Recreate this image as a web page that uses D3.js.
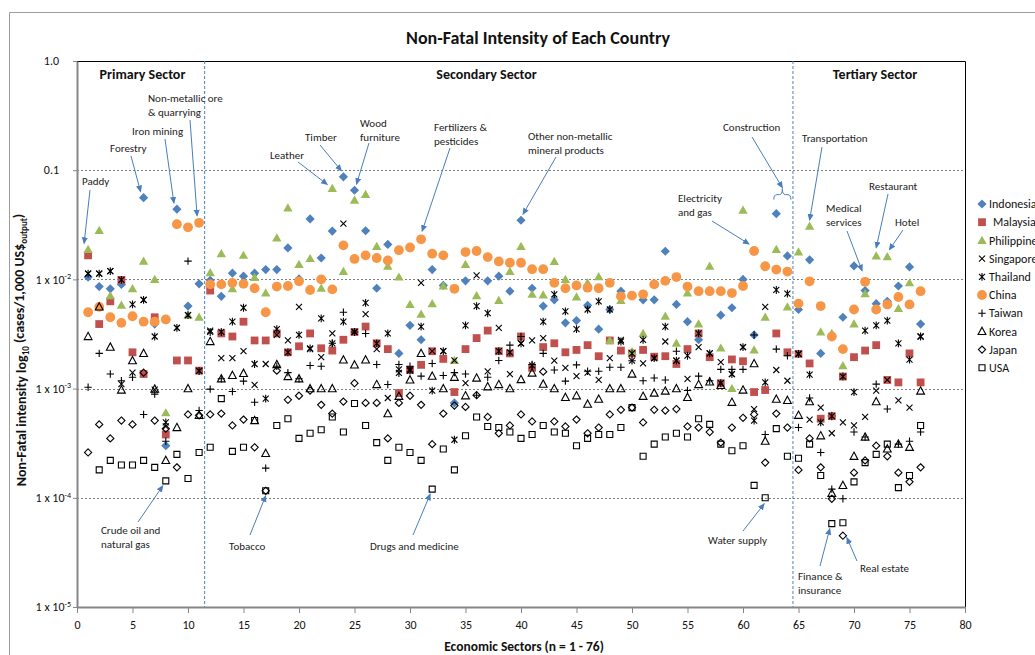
<!DOCTYPE html>
<html>
<head>
<meta charset="utf-8">
<script src="https://cdn.jsdelivr.net/npm/d3@7"></script>
<style>
  body { margin: 0; background: #fff; }
  svg { display: block; font-family: Carlito, Calibri, Lato, "Liberation Sans", sans-serif; }
</style>
</head>
<body>
<svg id="chart" width="1035" height="655"></svg>
<script>
// ---- Data: non-fatal intensity (cases / 1,000 US$ output), sectors 1..76 ----
const sectors = d3.range(1, 77);

const indonesia = [
  0.0105, 0.0086, 0.0082, 0.0090, 0.0046, 0.056, 0.0039, 0.0003, 0.044, 0.0057,
  0.0091, 0.0098, 0.0070, 0.0114, 0.0107, 0.0114, 0.0123, 0.0123, 0.0194, 0.0101,
  0.0358, 0.0157, 0.0277, 0.087, 0.0655, 0.0279, 0.0083, 0.0209, 0.0021, 0.0038,
  0.0028, 0.0123, 0.0088, 0.00074, 0.0097, 0.0182, 0.0097, 0.0107, 0.0078, 0.0348,
  0.0083, 0.0057, 0.0065, 0.0040, 0.0042, 0.0058, 0.0035, 0.0053, 0.0078, 0.0071,
  0.0065, 0.0065, 0.0181, 0.0059, 0.0041, 0.0028, 0.0078, 0.0047, 0.0055, 0.0100,
  0.0031, 0.0132, 0.040, 0.0164, 0.0053, 0.0151, 0.0021, 0.00056, 0.0045, 0.0133,
  0.0079, 0.0060, 0.0063, 0.0087, 0.0130, 0.0039
];
const malaysia = [
  0.0166, 0.0039, 0.0063, 0.0099, 0.00215, 0.00136, 0.0045, 0.00038, 0.00181, 0.00181,
  0.00146, 0.0079, 0.0032, 0.0030, 0.0041, 0.00276, 0.00276, 0.0032, 0.00215, 0.00244,
  0.0032, 0.00234, 0.00223, 0.0028, 0.0033, 0.0037, 0.0026, 0.0023, 0.00091, 0.00148,
  0.00165, 0.0022, 0.00187, 0.00093, 0.0023, 0.0029, 0.0034, 0.0022, 0.0021, 0.0030,
  0.00155, 0.0024, 0.0026, 0.00215, 0.00226, 0.0025, 0.00198, 0.00276, 0.00223, 0.0021,
  0.00226, 0.00196, 0.00198, 0.00168, 0.0023, 0.0032, 0.00194, 0.00112, 0.00185, 0.00178,
  0.00093, 0.00097, 0.0032, 0.00215, 0.00208, 0.0017, 0.00053, 0.00056, 0.00129, 0.00194,
  0.00223, 0.0025, 0.0012, 0.00114, 0.0021, 0.00114
];
const philippines = [
  0.0188, 0.028, 0.0071, 0.0058, 0.0082, 0.0147, 0.0100, 0.0006, null, 0.0047,
  0.0045, 0.0115, 0.0172, 0.0082, 0.0166, 0.0104, 0.0075, 0.024, 0.045, 0.0137,
  0.0155, 0.0083, 0.068, 0.0118, 0.053, 0.060, 0.020, 0.0132, 0.0105, 0.0059,
  0.0048, 0.0060, 0.0087, 0.00181, 0.0137, 0.0071, null, 0.0064, 0.0118, 0.020,
  0.0073, 0.0072, 0.0146, 0.0100, 0.0069, 0.0093, 0.0106, 0.00276, 0.0064, 0.00218,
  0.0032, null, 0.0046, 0.0026, 0.0075, 0.0039, 0.0132, 0.00235, 0.0010, 0.043,
  0.00226, 0.0045, 0.0188, 0.0056, 0.0178, 0.0307, 0.0033, 0.0032, 0.00162, 0.0039,
  0.0074, 0.0164, 0.0161, 0.0054, 0.0093, null
];
const singapore = [
  0.0113, 0.0113, 0.0119, 0.0011, 0.0014, 0.0065, 0.00098, 0.00045, 0.0036, 0.0047,
  0.00145, 0.0034, 0.0019, 0.0019, 0.0022, 0.00108, 0.00168, 0.0031, 0.00276, 0.0056,
  0.0023, 0.00194, 0.0032, 0.0324, 0.0033, 0.0048, 0.0023, 0.00082, 0.0015, 0.0015,
  0.0093, 0.0022, 0.0022, 0.00181, 0.00112, 0.0109, 0.00144, 0.0036, 0.00136, 0.0026,
  0.00276, 0.0029, 0.0018, 0.00155, 0.0013, 0.0014, 0.0012, 0.0019, 0.0028, 0.0018,
  0.0017, 0.0019, 0.0027, 0.0018, 0.00123, 0.0024, 0.0021, 0.00175, 0.00136, 0.0024,
  0.00065, 0.0056, 0.00148, 0.00118, 0.00208, 0.00052, 0.00067, 0.00039, 0.00049, 0.00046,
  0.00055, 0.00096, 0.0012, 0.00078, 0.00067, 0.0030
];
const thailand = [
  0.0113, 0.0113, 0.0119, 0.0099, 0.0059, 0.0065, 0.0030, 0.00049, 0.0036, 0.0047,
  0.00145, 0.0033, 0.0033, 0.0041, 0.0055, 0.00168, 0.00081, 0.0035, 0.00215, 0.0031,
  0.00234, 0.0044, 0.0026, 0.0041, 0.0033, 0.0061, 0.0026, 0.0032, 0.00139, 0.00146,
  0.0037, 0.00096, 0.0022, 0.00034, 0.0038, 0.0057, 0.0049, 0.0022, 0.00215, 0.0026,
  0.00163, 0.0041, 0.0073, 0.0051, 0.0035, 0.0053, 0.0063, 0.0053, 0.0027, 0.0021,
  0.0028, 0.0019, 0.0037, 0.0018, 0.0020, 0.0032, 0.0021, 0.00112, 0.00136, 0.0024,
  0.00051, 0.00114, 0.0080, 0.0074, 0.00208, 0.00134, 0.00049, 0.00056, 0.00129, 0.00093,
  0.0034, 0.0038, 0.0042, 0.0026, 0.00184, 0.0030
];
const china = [
  0.0050, 0.0056, 0.0045, 0.0040, 0.0046, 0.0041, 0.0041, 0.0043, 0.032, 0.030,
  0.033, 0.0090, 0.0090, 0.0093, 0.0091, 0.0083, 0.0050, 0.0086, 0.0087, 0.0096,
  0.0080, 0.0100, 0.0081, 0.0205, 0.0154, 0.0166, 0.0157, 0.0149, 0.0185, 0.0196,
  0.0233, 0.0172, 0.0166, 0.0082, 0.0178, 0.0182, 0.0160, 0.0146, 0.0142, 0.0142,
  0.0124, 0.0124, 0.0093, 0.0083, 0.0088, 0.0084, 0.0083, 0.0093, 0.0070, 0.0071,
  0.0073, 0.0090, 0.0097, 0.0105, 0.0086, 0.0078, 0.0078, 0.0078, 0.0075, 0.0087,
  0.0182, 0.0132, 0.0123, 0.0118, 0.0060, 0.0096, 0.0057, 0.0030, 0.0023, 0.0053,
  0.0095, 0.0053, 0.0059, 0.0069, 0.0059, 0.0078
];
const taiwan = [
  0.00103, 0.0021, 0.00136, 0.00118, 0.00127, 0.00058, 0.00089, 0.00033, null, 0.0147,
  0.00063, 0.00099, 0.00123, 0.00094, 0.00117, 0.00075, 0.000187, 0.0016, 0.0014, 0.00123,
  0.00163, 0.0016, 0.0026, 0.0050, 0.0033, 0.0032, 0.00166, 0.00109, 0.00166, 0.0016,
  0.0013, 0.0017, 0.00132, 0.0014, 0.00136, 0.00087, 0.00127, 0.00181, 0.0025, 0.0030,
  0.00166, 0.0021, 0.00148, 0.00117, 0.00165, 0.00144, 0.00144, 0.00157, 0.00157, 0.0018,
  0.00118, 0.00125, 0.0012, 0.0022, 0.00096, 0.0013, 0.00118, 0.0015, 0.0015, 0.0015,
  0.0031, 0.00038, 0.0023, 0.0020, 0.00044, 0.00082, 0.00026, 0.00012, 0.000098, 0.0004,
  0.00036, 0.0011, 0.00065, 0.00031, 0.00033, 0.0004
];
const korea = [
  0.0030, 0.0056, 0.0024, 0.00097, 0.0018, 0.0021, 0.00099, 0.00022, 0.00044, 0.0010,
  0.00057, 0.0027, 0.00123, 0.00132, 0.00138, 0.00051, 0.000255, 0.00166, 0.00129, 0.00123,
  0.0010, 0.0010, 0.0010, 0.00183, 0.00165, 0.00183, 0.00109, 0.00059, 0.00085, 0.0012,
  0.0021, 0.0013, 0.0010, 0.00127, 0.00086, 0.00125, 0.00104, 0.00109, 0.0010, 0.00121,
  0.00139, 0.0011, 0.0010, 0.00083, 0.00086, 0.00072, 0.0008, 0.0010, 0.0010, 0.00136,
  0.00085, 0.00091, 0.00095, 0.0010, 0.00083, 0.00109, 0.00115, 0.00107, 0.00075, 0.00097,
  0.00169, 0.00033, 0.0008, 0.00078, 0.00057, 0.00076, 0.00037, 0.00011, 0.00013, 0.00024,
  0.00036, 0.00076, 0.00028, 0.00031, 0.00029, 0.00095
];
const japan = [
  0.00026, 0.00047, 0.00035, 0.00051, 0.00047, 0.0014, 0.00051, 0.00043, 0.00019, 0.00058,
  0.00057, 0.00058, 0.00059, 0.00046, 0.00052, 0.00029, 0.000116, 0.00146, 0.00079, 0.00086,
  0.00096, 0.00071, 0.00059, 0.00076, 0.00112, 0.00074, 0.00074, 0.00035, 0.00074, 0.00086,
  0.00071, 0.00031, 0.00059, 0.0007, 0.00068, 0.00087, 0.00055, 0.00039, 0.00046, 0.00058,
  0.0005, 0.00143, 0.0005, 0.00045, 0.00052, 0.00039, 0.00044, 0.00058, 0.00064, 0.00067,
  0.00049, 0.00064, 0.00063, 0.00065, 0.00045, 0.00044, 0.0004, 0.00032, 0.00044, 0.00054,
  0.00058, 0.00021, 0.00059, 0.00044, 0.00018, 0.00035, 0.00019, 0.000098, 0.000045, 0.00017,
  0.00022, 0.0003, 0.00024, 0.00017, 0.00014, 0.00019
];
const usa = [
  null, 0.00018, 0.00022, 0.0002, 0.0002, 0.00022, 0.00019, 0.000143, 0.00025, 0.00015,
  0.00026, 0.00029, 0.00081, 0.000266, 0.00029, 0.00051, 0.000116, 0.00046, 0.00053, 0.00035,
  0.00039, 0.00042, 0.00055, 0.0004, 0.00073, 0.00046, 0.00032, 0.00022, 0.00029, 0.00026,
  0.00022, 0.00012, 0.00028, 0.00018, 0.00037, 0.00055, 0.00045, 0.00044, 0.0004, 0.00035,
  0.00038, 0.00046, 0.0004, 0.00039, 0.0003, 0.00035, 0.00038, 0.00038, 0.00044, 0.00067,
  0.00024, 0.00031, 0.00036, 0.00039, 0.00036, 0.00053, 0.00047, 0.00031, 0.00027, 0.0003,
  0.00013, 0.0001, 0.00043, 0.00024, 0.00023, 0.00031, 0.00016, 0.000058, 0.000059, 0.00014,
  0.00021, 0.00025, 0.00031, 0.000124, 0.00016, 0.00046
];

const countryNames = ["Indonesia", "Malaysia", "Philippines", "Singapore", "Thailand",
                      "China", "Taiwan", "Korea", "Japan", "USA"];
const yTickValues = [1, 0.1, 0.01, 0.001, 1e-4, 1e-5];
const xTickValues = d3.range(0, 81, 5);
const sectorNames = ["Primary Sector", "Secondary Sector", "Tertiary Sector"];
const sectorBounds = [11.5, 64.5];

(function () {
// ---- Series table (drawing order = legend order) ----
const series = [
  { name: countryNames[0], values: indonesia,   shape: "diamond",   color: "#4F81BD" },
  { name: countryNames[1], values: malaysia,    shape: "square",    color: "#C0504D" },
  { name: countryNames[2], values: philippines, shape: "triangle",  color: "#9BBB59" },
  { name: countryNames[3], values: singapore,   shape: "x",         color: "#000" },
  { name: countryNames[4], values: thailand,    shape: "star",      color: "#000" },
  { name: countryNames[5], values: china,       shape: "circle",    color: "#F79646" },
  { name: countryNames[6], values: taiwan,      shape: "plus",      color: "#000" },
  { name: countryNames[7], values: korea,       shape: "otriangle", color: "#000" },
  { name: countryNames[8], values: japan,       shape: "odiamond",  color: "#000" },
  { name: countryNames[9], values: usa,         shape: "osquare",   color: "#000" }
];
const byName = Object.fromEntries(series.map(s => [s.name, s]));

const shapes = {
  diamond:   "M0,-4.6L4.6,0L0,4.6L-4.6,0Z",
  square:    "M-3.9,-3.9H3.9V3.9H-3.9Z",
  triangle:  "M0,-4.7L4.7,3.5L-4.7,3.5Z",
  x:         "M-3,-3L3,3M-3,3L3,-3",
  star:      "M-3,-3L3,3M-3,3L3,-3M0,-3.9V3.9",
  circle:    "M-4.9,0A4.9,4.9 0 1,0 4.9,0A4.9,4.9 0 1,0 -4.9,0Z",
  plus:      "M-3.7,0H3.7M0,-3.7V3.7",
  otriangle: "M0,-4.2L3.9,3.1L-3.9,3.1Z",
  odiamond:  "M0,-3.6L3.6,0L0,3.6L-3.6,0Z",
  osquare:   "M-3,-3H3V3H-3Z"
};
const filled = new Set(["diamond", "square", "triangle", "circle"]);

function styleMarker(sel, s) {
  if (filled.has(s.shape)) sel.attr("fill", s.color).attr("stroke", "none");
  else sel.attr("fill", "none").attr("stroke", s.color).attr("stroke-width", 1.1);
}

// ---- Layout ----
const svg = d3.select("#chart");
const pL = 77, pR = 965, pT = 61, pB = 607;
const x = d3.scaleLinear().domain([0, 80]).range([pL, pR]);
const y = d3.scaleLog().domain([1e-5, 1]).range([pB, pT]);

const defs = svg.append("defs");
defs.append("marker")
  .attr("id", "arrow").attr("viewBox", "0 0 8 8")
  .attr("refX", 7).attr("refY", 4)
  .attr("markerWidth", 7).attr("markerHeight", 7)
  .attr("markerUnits", "userSpaceOnUse").attr("orient", "auto")
  .append("path").attr("d", "M0,0.5L8,4L0,7.5Z").attr("fill", "#4A7EBB");

// outer chart frame
svg.append("path").attr("d", "M9.5,655V12.5H1035")
  .attr("fill", "none").attr("stroke", "#9D9D9D").attr("stroke-width", 1);

// title
svg.append("text").attr("x", 538).attr("y", 44).attr("text-anchor", "middle")
  .attr("font-size", 18).attr("font-weight", "bold").attr("fill", "#111")
  .text("Non-Fatal Intensity of Each Country");

// gridlines
svg.append("g").selectAll("line").data(yTickValues.filter(v => v < 1 && v > 1e-5))
  .join("line")
  .attr("x1", pL).attr("x2", pR)
  .attr("y1", d => Math.round(y(d)) + 0.5).attr("y2", d => Math.round(y(d)) + 0.5)
  .attr("stroke", "#7F7F7F").attr("stroke-width", 1).attr("stroke-dasharray", "2,2");

// plot border (top, right)
svg.append("path").attr("d", `M${pL},${pT + 0.5}H${pR + 0.5}V${pB}`)
  .attr("fill", "none").attr("stroke", "#000").attr("stroke-width", 1);

// sector dividers
svg.append("g").selectAll("line").data(sectorBounds).join("line")
  .attr("x1", d => x(d)).attr("x2", d => x(d))
  .attr("y1", pT).attr("y2", pB)
  .attr("stroke", "#4F81BD").attr("stroke-width", 1).attr("stroke-dasharray", "3,2");

// sector titles (centred over each sector band)
const sectorX = [5.9, 36.9, 71.9];
svg.append("g").selectAll("text").data(sectorNames).join("text")
  .attr("x", (d, i) => x(sectorX[i])).attr("y", 79)
  .attr("text-anchor", "middle").attr("font-size", 14).attr("font-weight", "bold")
  .attr("fill", "#111").text(d => d);

// x axis (major + minor ticks)
const xAxisG = svg.append("g").attr("transform", `translate(0,${pB})`);
xAxisG.call(d3.axisBottom(x).tickValues(d3.range(0, 81, 1)).tickSize(4).tickSizeOuter(0).tickFormat(""));
xAxisG.call(d3.axisBottom(x).tickValues(xTickValues).tickSize(6).tickSizeOuter(0).tickFormat(d3.format("d")));
xAxisG.selectAll(".domain").attr("stroke", "#868686").attr("stroke-width", 2);
xAxisG.selectAll(".tick line").attr("stroke", "#868686");
xAxisG.selectAll("text").attr("font-size", 12).attr("fill", "#111").attr("dy", "1.05em")
  .attr("font-family", "Carlito, Calibri, Lato, 'Liberation Sans', sans-serif");

// y axis
const yAxisG = svg.append("g").attr("transform", `translate(${pL},0)`);
yAxisG.call(d3.axisLeft(y).tickValues(yTickValues).tickSize(4).tickSizeOuter(0).tickFormat(""));
yAxisG.selectAll(".domain").attr("stroke", "#868686").attr("stroke-width", 2);
yAxisG.selectAll(".tick line").attr("stroke", "#868686");

const yLabels = svg.append("g").attr("font-size", 12).attr("fill", "#111");
yTickValues.forEach(v => {
  const exp = Math.round(Math.log10(v));
  if (exp >= -1) {
    yLabels.append("text").attr("x", 59).attr("y", y(v)).attr("dy", "0.35em")
      .attr("text-anchor", "end").text(d3.format(".1f")(v));
  } else {
    const t = yLabels.append("text").attr("x", 71).attr("y", y(v)).attr("dy", "0.35em")
      .attr("text-anchor", "end");
    t.append("tspan").text("1 x 10");
    t.append("tspan").attr("font-size", 8).attr("dy", "-0.55em").text(String(exp));
  }
});

// axis titles
svg.append("text").attr("x", 524).attr("y", 651).attr("text-anchor", "middle")
  .attr("font-size", 13.5).attr("font-weight", "bold").attr("fill", "#111")
  .text("Economic Sectors (n = 1 - 76)");

const yTitle = svg.append("text")
  .attr("transform", "translate(26,350) rotate(-90)")
  .attr("text-anchor", "middle").attr("font-size", 14).attr("font-weight", "bold").attr("fill", "#111");
yTitle.append("tspan").text("Non-Fatal intensity log");
yTitle.append("tspan").attr("font-size", 9).attr("dy", "0.35em").text("10");
yTitle.append("tspan").attr("dy", "-0.35em").text(" (cases/1,000 US$");
yTitle.append("tspan").attr("font-size", 9).attr("dy", "0.35em").text("output");
yTitle.append("tspan").attr("dy", "-0.35em").text(")");

// ---- Points ----
const pointsG = svg.append("g");
series.forEach(s => {
  const g = pointsG.append("g");
  const pts = sectors.map((n, i) => ({ n, v: s.values[i] })).filter(d => d.v != null);
  g.selectAll("path").data(pts).join("path")
    .attr("d", shapes[s.shape])
    .attr("transform", d => `translate(${x(d.n)},${y(d.v)})`)
    .call(styleMarker, s);
});

// ---- Annotations ----
const notes = [
  { lines: ["Paddy"], at: [82, 181], from: [90, 190], target: ["Philippines", 1], off: [-4, -6] },
  { lines: ["Forestry"], at: [110, 148], from: [131, 156], target: ["Indonesia", 6], off: [-3, -6] },
  { lines: ["Iron mining"], at: [132, 131], from: [165, 139], target: ["Indonesia", 9], off: [-3, -6] },
  { lines: ["Non-metallic ore", "& quarrying"], at: [148, 98], from: [190, 120], target: ["China", 11], off: [-2, -7] },
  { lines: ["Crude oil and", "natural gas"], at: [101, 530], from: [138, 522], target: ["USA", 8], off: [-3, 5] },
  { lines: ["Tobacco"], at: [229, 546], from: [250, 535], target: ["USA", 17], off: [0, 5] },
  { lines: ["Drugs and medicine"], at: [370, 546], from: [413, 535], target: ["USA", 32], off: [-2, 5] },
  { lines: ["Leather"], at: [270, 155], from: [298, 162], target: ["Philippines", 23], off: [-5, -4] },
  { lines: ["Timber"], at: [305, 137], from: [320, 145], target: ["Indonesia", 24], off: [-2, -6] },
  { lines: ["Wood", "furniture"], at: [360, 123], from: [369, 143], target: ["Indonesia", 25], off: [2, -6] },
  { lines: ["Fertilizers &", "pesticides"], at: [434, 127], from: [450, 148], target: ["China", 31], off: [1, -8] },
  { lines: ["Other non-metallic", "mineral products"], at: [528, 136], from: [556, 157], target: ["Indonesia", 40], off: [2, -6] },
  { lines: ["Electricity", "and gas"], at: [678, 198], from: [712, 221], target: ["China", 61], off: [-5, -7] },
  { lines: ["Transportation"], at: [802, 138], from: [822, 147], target: ["Philippines", 66], off: [0, -6] },
  { lines: ["Medical", "services"], at: [826, 208], from: [847, 231], target: ["China", 71], off: [-3, -11] },
  { lines: ["Restaurant"], at: [869, 186], from: [888, 194], target: ["Philippines", 72], off: [0, -8] },
  { lines: ["Hotel"], at: [895, 222], from: [903, 230], target: ["Philippines", 73], off: [2, -7] },
  { lines: ["Water supply"], at: [708, 540], from: [743, 531], target: ["USA", 62], off: [-1, 6] },
  { lines: ["Finance &", "insurance"], at: [798, 576], from: [820, 566], target: ["USA", 68], off: [-2, 5] },
  { lines: ["Real estate"], at: [860, 568], from: [857, 561], target: ["Japan", 69], off: [4, 2] }
];

const noteG = svg.append("g");
notes.forEach(nt => {
  const s = byName[nt.target[0]];
  const n = nt.target[1];
  const tx = x(n) + nt.off[0], ty = y(s.values[n - 1]) + nt.off[1];
  noteG.append("line")
    .attr("x1", nt.from[0]).attr("y1", nt.from[1]).attr("x2", tx).attr("y2", ty)
    .attr("stroke", "#4A7EBB").attr("stroke-width", 1).attr("marker-end", "url(#arrow)");
  const t = noteG.append("text").attr("font-size", 11).attr("fill", "#222");
  nt.lines.forEach((ln, i) => {
    t.append("tspan").attr("x", nt.at[0]).attr("y", nt.at[1] + i * 14).attr("dy", "0.35em").text(ln);
  });
});

// Construction: arrow to a brace spanning sectors 63-64
{
  const bx1 = x(63) - 2.5, bx2 = x(64) + 3.5, mid = (bx1 + bx2) / 2;
  const by = y(indonesia[62]) - 26;
  noteG.append("path")
    .attr("d", `M${bx1},${by + 12}Q${bx1},${by + 7} ${bx1 + 3},${by + 7}L${mid - 3},${by + 7}` +
               `Q${mid},${by + 7} ${mid},${by + 1}Q${mid},${by + 7} ${mid + 3},${by + 7}` +
               `L${bx2 - 3},${by + 7}Q${bx2},${by + 7} ${bx2},${by + 12}`)
    .attr("fill", "none").attr("stroke", "#4A7EBB").attr("stroke-width", 1);
  noteG.append("line").attr("x1", 752).attr("y1", 137).attr("x2", mid).attr("y2", by)
    .attr("stroke", "#4A7EBB").attr("stroke-width", 1).attr("marker-end", "url(#arrow)");
  noteG.append("text").attr("x", 723).attr("y", 127).attr("dy", "0.35em")
    .attr("font-size", 11).attr("fill", "#222").text("Construction");
}

// ---- Legend ----
const legend = svg.append("g").attr("font-size", 12).attr("fill", "#111");
series.forEach((s, i) => {
  const ly = 204 + i * 18.2;
  const m = legend.append("path").attr("d", shapes[s.shape])
    .attr("transform", `translate(982,${ly})`);
  styleMarker(m, s);
  legend.append("text").attr("x", s.shape === "square" ? 993 : 989).attr("y", ly).attr("dy", "0.35em")
    .text(s.name);
});
})();
</script>
</body>
</html>
